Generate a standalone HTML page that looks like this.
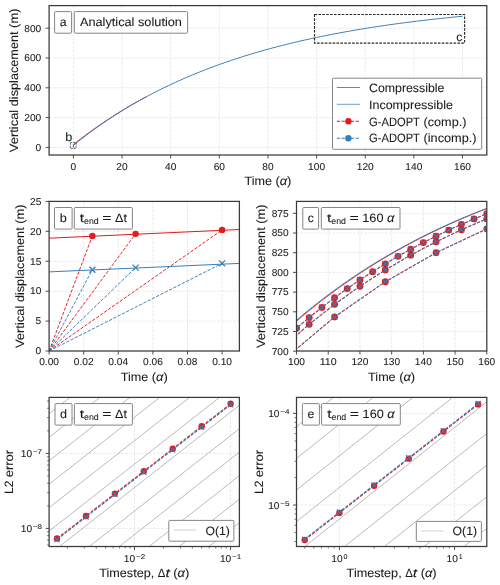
<!DOCTYPE html><html><head><meta charset="utf-8"><style>html,body{margin:0;padding:0;background:#fff;}svg{display:block;will-change:transform;}text{font-family:"Liberation Sans", sans-serif;text-rendering:geometricPrecision;stroke:#1c1c1c;stroke-width:0.08px;}</style></head><body>
<svg width="500" height="585" viewBox="0 0 500 585">
<rect x="0" y="0" width="500" height="585" fill="#fff"/>
<defs>
<clipPath id="ca"><rect x="49.1" y="5.6" width="437.7" height="149.4"/></clipPath>
<clipPath id="cb"><rect x="49.1" y="201.4" width="190.3" height="149.6"/></clipPath>
<clipPath id="cc"><rect x="296.5" y="201.4" width="190.3" height="149.6"/></clipPath>
<clipPath id="cd"><rect x="49.1" y="397.4" width="190.3" height="149.1"/></clipPath>
<clipPath id="ce"><rect x="296.5" y="397.4" width="190.3" height="149.1"/></clipPath>
</defs>
<line x1="73.42" y1="5.6" x2="73.42" y2="155" stroke="#e3e3e3" stroke-width="0.75" stroke-dasharray="2.8 1.2"/>
<line x1="122.05" y1="5.6" x2="122.05" y2="155" stroke="#e3e3e3" stroke-width="0.75" stroke-dasharray="2.8 1.2"/>
<line x1="170.68" y1="5.6" x2="170.68" y2="155" stroke="#e3e3e3" stroke-width="0.75" stroke-dasharray="2.8 1.2"/>
<line x1="219.32" y1="5.6" x2="219.32" y2="155" stroke="#e3e3e3" stroke-width="0.75" stroke-dasharray="2.8 1.2"/>
<line x1="267.95" y1="5.6" x2="267.95" y2="155" stroke="#e3e3e3" stroke-width="0.75" stroke-dasharray="2.8 1.2"/>
<line x1="316.58" y1="5.6" x2="316.58" y2="155" stroke="#e3e3e3" stroke-width="0.75" stroke-dasharray="2.8 1.2"/>
<line x1="365.22" y1="5.6" x2="365.22" y2="155" stroke="#e3e3e3" stroke-width="0.75" stroke-dasharray="2.8 1.2"/>
<line x1="413.85" y1="5.6" x2="413.85" y2="155" stroke="#e3e3e3" stroke-width="0.75" stroke-dasharray="2.8 1.2"/>
<line x1="462.48" y1="5.6" x2="462.48" y2="155" stroke="#e3e3e3" stroke-width="0.75" stroke-dasharray="2.8 1.2"/>
<line x1="49.1" y1="147.4" x2="486.8" y2="147.4" stroke="#e3e3e3" stroke-width="0.75" stroke-dasharray="2.8 1.2"/>
<line x1="49.1" y1="117.6" x2="486.8" y2="117.6" stroke="#e3e3e3" stroke-width="0.75" stroke-dasharray="2.8 1.2"/>
<line x1="49.1" y1="87.8" x2="486.8" y2="87.8" stroke="#e3e3e3" stroke-width="0.75" stroke-dasharray="2.8 1.2"/>
<line x1="49.1" y1="58" x2="486.8" y2="58" stroke="#e3e3e3" stroke-width="0.75" stroke-dasharray="2.8 1.2"/>
<line x1="49.1" y1="28.2" x2="486.8" y2="28.2" stroke="#e3e3e3" stroke-width="0.75" stroke-dasharray="2.8 1.2"/>
<polyline points="73.42,147.4 73.42,144.52 75.85,142.6 78.28,140.7 80.71,138.83 83.14,136.99 85.58,135.16 88.01,133.37 90.44,131.59 92.87,129.84 95.3,128.11 97.73,126.41 100.16,124.72 102.6,123.06 105.03,121.42 107.46,119.81 109.89,118.21 112.32,116.64 114.75,115.08 117.19,113.55 119.62,112.04 122.05,110.54 124.48,109.07 126.91,107.62 129.34,106.18 131.78,104.77 134.21,103.37 136.64,101.99 139.07,100.63 141.5,99.29 143.94,97.96 146.37,96.65" fill="none" stroke="#e41a1c" stroke-width="0.9" clip-path="url(#ca)"/>
<polyline points="73.42,147.4 73.42,145.4 75.85,143.42 78.28,141.47 80.71,139.55 83.14,137.66 85.58,135.79 88.01,133.95 90.44,132.14 92.87,130.36 95.3,128.59 97.73,126.86 100.16,125.15 102.6,123.46 105.03,121.79 107.46,120.15 109.89,118.54 112.32,116.94 114.75,115.37 117.19,113.82 119.62,112.28 122.05,110.78 124.48,109.29 126.91,107.82 129.34,106.37 131.78,104.94 134.21,103.53 136.64,102.15 139.07,100.77 141.5,99.42 143.94,98.09 146.37,96.77 148.8,95.48 151.23,94.2 153.66,92.93 156.09,91.69 158.53,90.46 160.96,89.24 163.39,88.05 165.82,86.87 168.25,85.7 170.68,84.55 173.12,83.42 175.55,82.3 177.98,81.2 180.41,80.11 182.84,79.03 185.27,77.98 187.7,76.93 190.14,75.9 192.57,74.88 195,73.87 197.43,72.88 199.86,71.91 202.29,70.94 204.73,69.99 207.16,69.05 209.59,68.12 212.02,67.21 214.45,66.3 216.88,65.41 219.32,64.53 221.75,63.67 224.18,62.81 226.61,61.97 229.04,61.13 231.47,60.31 233.91,59.5 236.34,58.7 238.77,57.91 241.2,57.13 243.63,56.36 246.06,55.6 248.5,54.85 250.93,54.11 253.36,53.39 255.79,52.67 258.22,51.96 260.66,51.26 263.09,50.56 265.52,49.88 267.95,49.21 270.38,48.54 272.81,47.89 275.25,47.24 277.68,46.6 280.11,45.97 282.54,45.35 284.97,44.74 287.4,44.13 289.83,43.54 292.27,42.95 294.7,42.36 297.13,41.79 299.56,41.22 301.99,40.67 304.43,40.11 306.86,39.57 309.29,39.03 311.72,38.5 314.15,37.98 316.58,37.46 319.01,36.95 321.45,36.45 323.88,35.96 326.31,35.47 328.74,34.98 331.17,34.51 333.61,34.04 336.04,33.57 338.47,33.11 340.9,32.66 343.33,32.22 345.76,31.78 348.19,31.34 350.63,30.91 353.06,30.49 355.49,30.07 357.92,29.66 360.35,29.26 362.79,28.86 365.22,28.46 367.65,28.07 370.08,27.68 372.51,27.3 374.94,26.93 377.38,26.56 379.81,26.19 382.24,25.83 384.67,25.48 387.1,25.13 389.53,24.78 391.97,24.44 394.4,24.1 396.83,23.77 399.26,23.44 401.69,23.12 404.12,22.8 406.56,22.48 408.99,22.17 411.42,21.86 413.85,21.56 416.28,21.26 418.71,20.96 421.14,20.67 423.58,20.38 426.01,20.1 428.44,19.82 430.87,19.54 433.3,19.27 435.74,19 438.17,18.74 440.6,18.47 443.03,18.21 445.46,17.96 447.89,17.71 450.33,17.46 452.76,17.21 455.19,16.97 457.62,16.73 460.05,16.5 462.48,16.27" fill="none" stroke="#377eb8" stroke-width="1" clip-path="url(#ca)"/>
<rect x="70.4" y="142.4" width="5.7" height="6" fill="none" stroke="#555" stroke-width="0.9" stroke-dasharray="2.0 1.0"/>
<g>
<text x="65.18" y="140.6" font-size="12.1" textLength="7.05" lengthAdjust="spacingAndGlyphs" fill="#1c1c1c">b</text>
</g>
<rect x="314.5" y="14.5" width="150.1" height="28.6" fill="none" stroke="#2a2a2a" stroke-width="1.15" stroke-dasharray="2.6 1.3"/>
<g>
<text x="456.3" y="40.8" font-size="12.1" textLength="6.1" lengthAdjust="spacingAndGlyphs" fill="#1c1c1c">c</text>
</g>
<rect x="49.1" y="5.6" width="437.7" height="149.4" fill="none" stroke="#3a3a3a" stroke-width="1.25"/>
<line x1="73.42" y1="155" x2="73.42" y2="158.5" stroke="#3a3a3a" stroke-width="0.9"/>
<g>
<text x="70.59" y="170" font-size="9.97" textLength="5.66" lengthAdjust="spacingAndGlyphs" fill="#1c1c1c">0</text>
</g>
<line x1="122.05" y1="155" x2="122.05" y2="158.5" stroke="#3a3a3a" stroke-width="0.9"/>
<g>
<text x="116.39" y="170" font-size="9.97" textLength="11.32" lengthAdjust="spacingAndGlyphs" fill="#1c1c1c">20</text>
</g>
<line x1="170.68" y1="155" x2="170.68" y2="158.5" stroke="#3a3a3a" stroke-width="0.9"/>
<g>
<text x="165.02" y="170" font-size="9.97" textLength="11.32" lengthAdjust="spacingAndGlyphs" fill="#1c1c1c">40</text>
</g>
<line x1="219.32" y1="155" x2="219.32" y2="158.5" stroke="#3a3a3a" stroke-width="0.9"/>
<g>
<text x="213.65" y="170" font-size="9.97" textLength="11.32" lengthAdjust="spacingAndGlyphs" fill="#1c1c1c">60</text>
</g>
<line x1="267.95" y1="155" x2="267.95" y2="158.5" stroke="#3a3a3a" stroke-width="0.9"/>
<g>
<text x="262.29" y="170" font-size="9.97" textLength="11.32" lengthAdjust="spacingAndGlyphs" fill="#1c1c1c">80</text>
</g>
<line x1="316.58" y1="155" x2="316.58" y2="158.5" stroke="#3a3a3a" stroke-width="0.9"/>
<g>
<text x="308.09" y="170" font-size="9.97" textLength="16.99" lengthAdjust="spacingAndGlyphs" fill="#1c1c1c">100</text>
</g>
<line x1="365.22" y1="155" x2="365.22" y2="158.5" stroke="#3a3a3a" stroke-width="0.9"/>
<g>
<text x="356.72" y="170" font-size="9.97" textLength="16.99" lengthAdjust="spacingAndGlyphs" fill="#1c1c1c">120</text>
</g>
<line x1="413.85" y1="155" x2="413.85" y2="158.5" stroke="#3a3a3a" stroke-width="0.9"/>
<g>
<text x="405.36" y="170" font-size="9.97" textLength="16.99" lengthAdjust="spacingAndGlyphs" fill="#1c1c1c">140</text>
</g>
<line x1="462.48" y1="155" x2="462.48" y2="158.5" stroke="#3a3a3a" stroke-width="0.9"/>
<g>
<text x="453.99" y="170" font-size="9.97" textLength="16.99" lengthAdjust="spacingAndGlyphs" fill="#1c1c1c">160</text>
</g>
<line x1="45.6" y1="147.4" x2="49.1" y2="147.4" stroke="#3a3a3a" stroke-width="0.9"/>
<g>
<text x="35.64" y="150.7" font-size="9.97" textLength="5.66" lengthAdjust="spacingAndGlyphs" fill="#1c1c1c">0</text>
</g>
<line x1="45.6" y1="117.6" x2="49.1" y2="117.6" stroke="#3a3a3a" stroke-width="0.9"/>
<g>
<text x="24.31" y="120.9" font-size="9.97" textLength="16.99" lengthAdjust="spacingAndGlyphs" fill="#1c1c1c">200</text>
</g>
<line x1="45.6" y1="87.8" x2="49.1" y2="87.8" stroke="#3a3a3a" stroke-width="0.9"/>
<g>
<text x="24.31" y="91.1" font-size="9.97" textLength="16.99" lengthAdjust="spacingAndGlyphs" fill="#1c1c1c">400</text>
</g>
<line x1="45.6" y1="58" x2="49.1" y2="58" stroke="#3a3a3a" stroke-width="0.9"/>
<g>
<text x="24.31" y="61.3" font-size="9.97" textLength="16.99" lengthAdjust="spacingAndGlyphs" fill="#1c1c1c">600</text>
</g>
<line x1="45.6" y1="28.2" x2="49.1" y2="28.2" stroke="#3a3a3a" stroke-width="0.9"/>
<g>
<text x="24.31" y="31.5" font-size="9.97" textLength="16.99" lengthAdjust="spacingAndGlyphs" fill="#1c1c1c">800</text>
</g>
<g>
<text x="244.44" y="184.6" font-size="12.1" textLength="27.51" lengthAdjust="spacingAndGlyphs" fill="#1c1c1c">Time</text>
<text x="275.48" y="184.6" font-size="12.1" textLength="4.33" lengthAdjust="spacingAndGlyphs" fill="#1c1c1c">(</text>
<text x="279.81" y="184.6" font-size="12.1" textLength="7.32" lengthAdjust="spacingAndGlyphs" fill="#1c1c1c" font-style="italic">α</text>
<text x="287.13" y="184.6" font-size="12.1" textLength="4.33" lengthAdjust="spacingAndGlyphs" fill="#1c1c1c">)</text>
</g>
<g transform="rotate(-90 18.3 80.3)">
<text x="-53.57" y="80.3" font-size="12.1" textLength="42.41" lengthAdjust="spacingAndGlyphs" fill="#1c1c1c">Vertical</text>
<text x="-7.63" y="80.3" font-size="12.1" textLength="74.81" lengthAdjust="spacingAndGlyphs" fill="#1c1c1c">displacement</text>
<text x="70.7" y="80.3" font-size="12.1" textLength="19.47" lengthAdjust="spacingAndGlyphs" fill="#1c1c1c">(m)</text>
</g>
<rect x="54.6" y="11.6" width="17" height="21.6" fill="#fff" stroke="#858585" stroke-width="1" rx="0.9"/>
<g>
<text x="59.7" y="26" font-size="12.1" textLength="6.8" lengthAdjust="spacingAndGlyphs" fill="#1c1c1c">a</text>
</g>
<rect x="74.3" y="11.6" width="113.3" height="21.6" fill="#fff" stroke="#858585" stroke-width="1" rx="0.9"/>
<g>
<text x="79.95" y="26" font-size="12.1" textLength="54.51" lengthAdjust="spacingAndGlyphs" fill="#1c1c1c">Analytical</text>
<text x="137.99" y="26" font-size="12.1" textLength="43.96" lengthAdjust="spacingAndGlyphs" fill="#1c1c1c">solution</text>
</g>
<rect x="332.5" y="78.2" width="149.2" height="71.1" fill="#fff" stroke="#858585" stroke-width="1" rx="0.9"/>
<line x1="336.8" y1="87.5" x2="360" y2="87.5" stroke="#e41a1c" stroke-width="1" stroke-opacity="0.75"/>
<line x1="336.8" y1="104.3" x2="360" y2="104.3" stroke="#377eb8" stroke-width="1" stroke-opacity="0.75"/>
<line x1="336.8" y1="121.3" x2="360" y2="121.3" stroke="#e41a1c" stroke-width="1.1" stroke-dasharray="3.3 1.4"/>
<circle cx="348.4" cy="121.3" r="3.2" fill="#e41a1c"/>
<line x1="336.8" y1="138.2" x2="360" y2="138.2" stroke="#377eb8" stroke-width="1.1" stroke-dasharray="3.3 1.4"/>
<circle cx="348.4" cy="138.2" r="3.2" fill="#377eb8"/>
<g>
<text x="369" y="91.7" font-size="12.1" textLength="75.4" lengthAdjust="spacingAndGlyphs" fill="#1c1c1c">Compressible</text>
</g>
<g>
<text x="369" y="108.5" font-size="12.1" textLength="84.06" lengthAdjust="spacingAndGlyphs" fill="#1c1c1c">Incompressible</text>
</g>
<g>
<text x="369" y="125.5" font-size="12.1" textLength="50.96" lengthAdjust="spacingAndGlyphs" fill="#1c1c1c">G-ADOPT</text>
<text x="423.49" y="125.5" font-size="12.1" textLength="42.94" lengthAdjust="spacingAndGlyphs" fill="#1c1c1c">(comp.)</text>
</g>
<g>
<text x="369" y="142.4" font-size="12.1" textLength="50.96" lengthAdjust="spacingAndGlyphs" fill="#1c1c1c">G-ADOPT</text>
<text x="423.49" y="142.4" font-size="12.1" textLength="53.06" lengthAdjust="spacingAndGlyphs" fill="#1c1c1c">(incomp.)</text>
</g>
<line x1="83.7" y1="201.4" x2="83.7" y2="351" stroke="#e3e3e3" stroke-width="0.75" stroke-dasharray="2.8 1.2"/>
<line x1="118.3" y1="201.4" x2="118.3" y2="351" stroke="#e3e3e3" stroke-width="0.75" stroke-dasharray="2.8 1.2"/>
<line x1="152.9" y1="201.4" x2="152.9" y2="351" stroke="#e3e3e3" stroke-width="0.75" stroke-dasharray="2.8 1.2"/>
<line x1="187.5" y1="201.4" x2="187.5" y2="351" stroke="#e3e3e3" stroke-width="0.75" stroke-dasharray="2.8 1.2"/>
<line x1="222.1" y1="201.4" x2="222.1" y2="351" stroke="#e3e3e3" stroke-width="0.75" stroke-dasharray="2.8 1.2"/>
<line x1="49.1" y1="321.08" x2="239.4" y2="321.08" stroke="#e3e3e3" stroke-width="0.75" stroke-dasharray="2.8 1.2"/>
<line x1="49.1" y1="291.16" x2="239.4" y2="291.16" stroke="#e3e3e3" stroke-width="0.75" stroke-dasharray="2.8 1.2"/>
<line x1="49.1" y1="261.24" x2="239.4" y2="261.24" stroke="#e3e3e3" stroke-width="0.75" stroke-dasharray="2.8 1.2"/>
<line x1="49.1" y1="231.32" x2="239.4" y2="231.32" stroke="#e3e3e3" stroke-width="0.75" stroke-dasharray="2.8 1.2"/>
<polyline points="49.1,351 92.35,235.93" fill="none" stroke="#e41a1c" stroke-width="0.95" stroke-dasharray="3.3 1.5" clip-path="url(#cb)"/>
<polyline points="49.1,351 135.6,233.83" fill="none" stroke="#e41a1c" stroke-width="0.95" stroke-dasharray="3.3 1.5" clip-path="url(#cb)"/>
<polyline points="49.1,351 222.1,229.88" fill="none" stroke="#e41a1c" stroke-width="0.95" stroke-dasharray="3.3 1.5" clip-path="url(#cb)"/>
<polyline points="49.1,351 92.35,269.74" fill="none" stroke="#377eb8" stroke-width="0.95" stroke-dasharray="3.3 1.5" clip-path="url(#cb)"/>
<polyline points="49.1,351 135.6,267.64" fill="none" stroke="#377eb8" stroke-width="0.95" stroke-dasharray="3.3 1.5" clip-path="url(#cb)"/>
<polyline points="49.1,351 222.1,263.39" fill="none" stroke="#377eb8" stroke-width="0.95" stroke-dasharray="3.3 1.5" clip-path="url(#cb)"/>
<polyline points="49.1,238.2 239.4,229.5" fill="none" stroke="#e41a1c" stroke-width="1" clip-path="url(#cb)"/>
<polyline points="49.1,271.9 239.4,263.4" fill="none" stroke="#377eb8" stroke-width="1" clip-path="url(#cb)"/>
<circle cx="92.35" cy="235.93" r="3.2" fill="#e41a1c"/>
<circle cx="135.6" cy="233.83" r="3.2" fill="#e41a1c"/>
<circle cx="222.1" cy="229.88" r="3.2" fill="#e41a1c"/>
<path d="M89.35 266.74L95.35 272.74M89.35 272.74L95.35 266.74" stroke="#377eb8" stroke-width="1.25" fill="none"/>
<path d="M132.6 264.64L138.6 270.64M132.6 270.64L138.6 264.64" stroke="#377eb8" stroke-width="1.25" fill="none"/>
<path d="M219.1 260.39L225.1 266.39M219.1 266.39L225.1 260.39" stroke="#377eb8" stroke-width="1.25" fill="none"/>
<rect x="49.1" y="201.4" width="190.3" height="149.6" fill="none" stroke="#3a3a3a" stroke-width="1.25"/>
<line x1="49.1" y1="351" x2="49.1" y2="354.5" stroke="#3a3a3a" stroke-width="0.9"/>
<g>
<text x="39.19" y="365.4" font-size="9.97" textLength="19.82" lengthAdjust="spacingAndGlyphs" fill="#1c1c1c">0.00</text>
</g>
<line x1="83.7" y1="351" x2="83.7" y2="354.5" stroke="#3a3a3a" stroke-width="0.9"/>
<g>
<text x="73.79" y="365.4" font-size="9.97" textLength="19.82" lengthAdjust="spacingAndGlyphs" fill="#1c1c1c">0.02</text>
</g>
<line x1="118.3" y1="351" x2="118.3" y2="354.5" stroke="#3a3a3a" stroke-width="0.9"/>
<g>
<text x="108.39" y="365.4" font-size="9.97" textLength="19.82" lengthAdjust="spacingAndGlyphs" fill="#1c1c1c">0.04</text>
</g>
<line x1="152.9" y1="351" x2="152.9" y2="354.5" stroke="#3a3a3a" stroke-width="0.9"/>
<g>
<text x="142.99" y="365.4" font-size="9.97" textLength="19.82" lengthAdjust="spacingAndGlyphs" fill="#1c1c1c">0.06</text>
</g>
<line x1="187.5" y1="351" x2="187.5" y2="354.5" stroke="#3a3a3a" stroke-width="0.9"/>
<g>
<text x="177.59" y="365.4" font-size="9.97" textLength="19.82" lengthAdjust="spacingAndGlyphs" fill="#1c1c1c">0.08</text>
</g>
<line x1="222.1" y1="351" x2="222.1" y2="354.5" stroke="#3a3a3a" stroke-width="0.9"/>
<g>
<text x="212.19" y="365.4" font-size="9.97" textLength="19.82" lengthAdjust="spacingAndGlyphs" fill="#1c1c1c">0.10</text>
</g>
<line x1="45.6" y1="351" x2="49.1" y2="351" stroke="#3a3a3a" stroke-width="0.9"/>
<g>
<text x="35.64" y="354.3" font-size="9.97" textLength="5.66" lengthAdjust="spacingAndGlyphs" fill="#1c1c1c">0</text>
</g>
<line x1="45.6" y1="321.08" x2="49.1" y2="321.08" stroke="#3a3a3a" stroke-width="0.9"/>
<g>
<text x="35.64" y="324.38" font-size="9.97" textLength="5.66" lengthAdjust="spacingAndGlyphs" fill="#1c1c1c">5</text>
</g>
<line x1="45.6" y1="291.16" x2="49.1" y2="291.16" stroke="#3a3a3a" stroke-width="0.9"/>
<g>
<text x="29.98" y="294.46" font-size="9.97" textLength="11.32" lengthAdjust="spacingAndGlyphs" fill="#1c1c1c">10</text>
</g>
<line x1="45.6" y1="261.24" x2="49.1" y2="261.24" stroke="#3a3a3a" stroke-width="0.9"/>
<g>
<text x="29.98" y="264.54" font-size="9.97" textLength="11.32" lengthAdjust="spacingAndGlyphs" fill="#1c1c1c">15</text>
</g>
<line x1="45.6" y1="231.32" x2="49.1" y2="231.32" stroke="#3a3a3a" stroke-width="0.9"/>
<g>
<text x="29.98" y="234.62" font-size="9.97" textLength="11.32" lengthAdjust="spacingAndGlyphs" fill="#1c1c1c">20</text>
</g>
<line x1="45.6" y1="201.4" x2="49.1" y2="201.4" stroke="#3a3a3a" stroke-width="0.9"/>
<g>
<text x="29.98" y="204.7" font-size="9.97" textLength="11.32" lengthAdjust="spacingAndGlyphs" fill="#1c1c1c">25</text>
</g>
<g>
<text x="120.74" y="380.5" font-size="12.1" textLength="27.51" lengthAdjust="spacingAndGlyphs" fill="#1c1c1c">Time</text>
<text x="151.78" y="380.5" font-size="12.1" textLength="4.33" lengthAdjust="spacingAndGlyphs" fill="#1c1c1c">(</text>
<text x="156.11" y="380.5" font-size="12.1" textLength="7.32" lengthAdjust="spacingAndGlyphs" fill="#1c1c1c" font-style="italic">α</text>
<text x="163.43" y="380.5" font-size="12.1" textLength="4.33" lengthAdjust="spacingAndGlyphs" fill="#1c1c1c">)</text>
</g>
<g transform="rotate(-90 23.9 276.2)">
<text x="-47.97" y="276.2" font-size="12.1" textLength="42.41" lengthAdjust="spacingAndGlyphs" fill="#1c1c1c">Vertical</text>
<text x="-2.03" y="276.2" font-size="12.1" textLength="74.81" lengthAdjust="spacingAndGlyphs" fill="#1c1c1c">displacement</text>
<text x="76.3" y="276.2" font-size="12.1" textLength="19.47" lengthAdjust="spacingAndGlyphs" fill="#1c1c1c">(m)</text>
</g>
<rect x="54.5" y="207.5" width="17.6" height="21.6" fill="#fff" stroke="#858585" stroke-width="1" rx="0.9"/>
<g>
<text x="59.78" y="221.9" font-size="12.1" textLength="7.05" lengthAdjust="spacingAndGlyphs" fill="#1c1c1c">b</text>
</g>
<rect x="74.3" y="207.5" width="58.1" height="21.6" fill="#fff" stroke="#858585" stroke-width="1" rx="0.9"/>
<g>
<text x="79.7" y="221.9" font-size="12.1" textLength="4.35" lengthAdjust="spacingAndGlyphs" fill="#1c1c1c">t</text>
<text x="84.06" y="224.34" font-size="8.7" textLength="14.64" lengthAdjust="spacingAndGlyphs" fill="#1c1c1c">end</text>
<text x="102.22" y="221.9" font-size="12.1" textLength="9.3" lengthAdjust="spacingAndGlyphs" fill="#1c1c1c">=</text>
<text x="115.05" y="221.9" font-size="12.1" textLength="11.95" lengthAdjust="spacingAndGlyphs" fill="#1c1c1c">Δt</text>
</g>
<line x1="328.22" y1="201.4" x2="328.22" y2="351" stroke="#e3e3e3" stroke-width="0.75" stroke-dasharray="2.8 1.2"/>
<line x1="359.93" y1="201.4" x2="359.93" y2="351" stroke="#e3e3e3" stroke-width="0.75" stroke-dasharray="2.8 1.2"/>
<line x1="391.65" y1="201.4" x2="391.65" y2="351" stroke="#e3e3e3" stroke-width="0.75" stroke-dasharray="2.8 1.2"/>
<line x1="423.37" y1="201.4" x2="423.37" y2="351" stroke="#e3e3e3" stroke-width="0.75" stroke-dasharray="2.8 1.2"/>
<line x1="455.08" y1="201.4" x2="455.08" y2="351" stroke="#e3e3e3" stroke-width="0.75" stroke-dasharray="2.8 1.2"/>
<line x1="296.5" y1="331.5" x2="486.8" y2="331.5" stroke="#e3e3e3" stroke-width="0.75" stroke-dasharray="2.8 1.2"/>
<line x1="296.5" y1="311.8" x2="486.8" y2="311.8" stroke="#e3e3e3" stroke-width="0.75" stroke-dasharray="2.8 1.2"/>
<line x1="296.5" y1="292.1" x2="486.8" y2="292.1" stroke="#e3e3e3" stroke-width="0.75" stroke-dasharray="2.8 1.2"/>
<line x1="296.5" y1="272.4" x2="486.8" y2="272.4" stroke="#e3e3e3" stroke-width="0.75" stroke-dasharray="2.8 1.2"/>
<line x1="296.5" y1="252.7" x2="486.8" y2="252.7" stroke="#e3e3e3" stroke-width="0.75" stroke-dasharray="2.8 1.2"/>
<line x1="296.5" y1="233" x2="486.8" y2="233" stroke="#e3e3e3" stroke-width="0.75" stroke-dasharray="2.8 1.2"/>
<line x1="296.5" y1="213.3" x2="486.8" y2="213.3" stroke="#e3e3e3" stroke-width="0.75" stroke-dasharray="2.8 1.2"/>
<polyline points="264.78,350.27 266.37,348.72 267.95,347.18 269.54,345.65 271.13,344.13 272.71,342.62 274.3,341.13 275.88,339.64 277.47,338.16 279.06,336.69 280.64,335.23 282.23,333.78 283.81,332.34 285.4,330.91 286.99,329.49 288.57,328.07 290.16,326.67 291.74,325.28 293.33,323.89 294.91,322.52 296.5,321.15 298.09,319.8 299.67,318.45 301.26,317.11 302.84,315.78 304.43,314.46 306.01,313.14 307.6,311.84 309.19,310.55 310.77,309.26 312.36,307.98 313.94,306.71 315.53,305.45 317.12,304.2 318.7,302.95 320.29,301.72 321.87,300.49 323.46,299.27 325.05,298.06 326.63,296.85 328.22,295.66 329.8,294.47 331.39,293.29 332.97,292.11 334.56,290.95 336.15,289.79 337.73,288.64 339.32,287.5 340.9,286.37 342.49,285.24 344.07,284.12 345.66,283.01 347.25,281.91 348.83,280.81 350.42,279.72 352,278.64 353.59,277.56 355.18,276.49 356.76,275.43 358.35,274.38 359.93,273.33 361.52,272.29 363.11,271.26 364.69,270.23 366.28,269.21 367.86,268.2 369.45,267.19 371.03,266.19 372.62,265.2 374.21,264.21 375.79,263.23 377.38,262.26 378.96,261.29 380.55,260.33 382.13,259.38 383.72,258.43 385.31,257.49 386.89,256.55 388.48,255.62 390.06,254.7 391.65,253.78 393.24,252.87 394.82,251.96 396.41,251.07 397.99,250.17 399.58,249.29 401.17,248.4 402.75,247.53 404.34,246.66 405.92,245.8 407.51,244.94 409.09,244.09 410.68,243.24 412.27,242.4 413.85,241.56 415.44,240.73 417.02,239.91 418.61,239.09 420.19,238.27 421.78,237.47 423.37,236.66 424.95,235.87 426.54,235.07 428.12,234.29 429.71,233.5 431.3,232.73 432.88,231.96 434.47,231.19 436.05,230.43 437.64,229.67 439.23,228.92 440.81,228.17 442.4,227.43 443.98,226.7 445.57,225.96 447.15,225.24 448.74,224.52 450.33,223.8 451.91,223.09 453.5,222.38 455.08,221.67 456.67,220.98 458.25,220.28 459.84,219.59 461.43,218.91 463.01,218.23 464.6,217.55 466.18,216.88 467.77,216.22 469.36,215.55 470.94,214.89 472.53,214.24 474.11,213.59 475.7,212.95 477.28,212.31 478.87,211.67 480.46,211.04 482.04,210.41 483.63,209.79 485.21,209.17 486.8,208.55 488.39,207.94 489.97,207.33 491.56,206.73 493.14,206.13 494.73,205.53 496.32,204.94 497.9,204.35 499.49,203.77 501.07,203.19 502.66,202.61" fill="none" stroke="#e41a1c" stroke-width="1" clip-path="url(#cc)"/>
<polyline points="264.78,349.29 266.37,347.75 267.95,346.21 269.54,344.68 271.13,343.16 272.71,341.66 274.3,340.16 275.88,338.68 277.47,337.2 279.06,335.73 280.64,334.28 282.23,332.83 283.81,331.39 285.4,329.96 286.99,328.55 288.57,327.14 290.16,325.74 291.74,324.35 293.33,322.97 294.91,321.6 296.5,320.23 298.09,318.88 299.67,317.54 301.26,316.2 302.84,314.88 304.43,313.56 306.01,312.25 307.6,310.95 309.19,309.66 310.77,308.38 312.36,307.1 313.94,305.84 315.53,304.58 317.12,303.33 318.7,302.09 320.29,300.86 321.87,299.64 323.46,298.42 325.05,297.22 326.63,296.02 328.22,294.83 329.8,293.64 331.39,292.47 332.97,291.3 334.56,290.14 336.15,288.99 337.73,287.84 339.32,286.71 340.9,285.58 342.49,284.46 344.07,283.34 345.66,282.24 347.25,281.14 348.83,280.05 350.42,278.96 352,277.89 353.59,276.82 355.18,275.75 356.76,274.7 358.35,273.65 359.93,272.61 361.52,271.57 363.11,270.55 364.69,269.53 366.28,268.51 367.86,267.5 369.45,266.5 371.03,265.51 372.62,264.52 374.21,263.54 375.79,262.57 377.38,261.6 378.96,260.64 380.55,259.69 382.13,258.74 383.72,257.8 385.31,256.86 386.89,255.93 388.48,255.01 390.06,254.09 391.65,253.18 393.24,252.28 394.82,251.38 396.41,250.49 397.99,249.6 399.58,248.72 401.17,247.84 402.75,246.98 404.34,246.11 405.92,245.26 407.51,244.4 409.09,243.56 410.68,242.72 412.27,241.88 413.85,241.05 415.44,240.23 417.02,239.41 418.61,238.6 420.19,237.79 421.78,236.99 423.37,236.2 424.95,235.41 426.54,234.62 428.12,233.84 429.71,233.06 431.3,232.29 432.88,231.53 434.47,230.77 436.05,230.01 437.64,229.27 439.23,228.52 440.81,227.78 442.4,227.05 443.98,226.32 445.57,225.59 447.15,224.87 448.74,224.16 450.33,223.45 451.91,222.74 453.5,222.04 455.08,221.34 456.67,220.65 458.25,219.96 459.84,219.28 461.43,218.6 463.01,217.93 464.6,217.26 466.18,216.6 467.77,215.94 469.36,215.28 470.94,214.63 472.53,213.99 474.11,213.34 475.7,212.71 477.28,212.07 478.87,211.44 480.46,210.82 482.04,210.2 483.63,209.58 485.21,208.97 486.8,208.36 488.39,207.75 489.97,207.15 491.56,206.55 493.14,205.96 494.73,205.37 496.32,204.79 497.9,204.21 499.49,203.63 501.07,203.06 502.66,202.49" fill="none" stroke="#377eb8" stroke-width="1" clip-path="url(#cc)"/>
<polyline points="283.81,339.53 296.5,328.26 309.19,317.56 321.87,307.4 334.56,297.75 347.25,288.59 359.93,279.89 372.62,271.63 385.31,263.79 397.99,256.34 410.68,249.27 423.37,242.55 436.05,236.18 448.74,230.12 461.43,224.37 474.11,218.91 486.8,213.73" fill="none" stroke="#e41a1c" stroke-width="1.1" stroke-dasharray="3.3 1.4" clip-path="url(#cc)"/>
<polyline points="283.81,339.53 296.5,328.26 309.19,317.56 321.87,307.4 334.56,297.75 347.25,288.59 359.93,279.89 372.62,271.63 385.31,263.79 397.99,256.34 410.68,249.27 423.37,242.55 436.05,236.18 448.74,230.12 461.43,224.37 474.11,218.91 486.8,213.73" fill="none" stroke="#377eb8" stroke-width="0.9" stroke-dasharray="3.3 1.4" clip-path="url(#cc)"/>
<polyline points="283.81,346.46 309.19,324.34 334.56,304.35 359.93,286.27 385.31,269.93 410.68,255.16 436.05,241.81 461.43,229.74 486.8,218.83" fill="none" stroke="#e41a1c" stroke-width="1.1" stroke-dasharray="3.3 1.4" clip-path="url(#cc)"/>
<polyline points="283.81,346.46 309.19,324.34 334.56,304.35 359.93,286.27 385.31,269.93 410.68,255.16 436.05,241.81 461.43,229.74 486.8,218.83" fill="none" stroke="#377eb8" stroke-width="0.9" stroke-dasharray="3.3 1.4" clip-path="url(#cc)"/>
<polyline points="283.81,359.63 334.56,316.96 385.31,281.77 436.05,252.74 486.8,228.8" fill="none" stroke="#e41a1c" stroke-width="1.1" stroke-dasharray="3.3 1.4" clip-path="url(#cc)"/>
<polyline points="283.81,359.63 334.56,316.96 385.31,281.77 436.05,252.74 486.8,228.8" fill="none" stroke="#377eb8" stroke-width="0.9" stroke-dasharray="3.3 1.4" clip-path="url(#cc)"/>
<circle cx="296.5" cy="328.26" r="3.4" fill="#e41a1c" clip-path="url(#cc)"/>
<path d="M293.8 325.56L299.2 330.96M293.8 330.96L299.2 325.56" stroke="#377eb8" stroke-width="1.05" fill="none" clip-path="url(#cc)"/>
<circle cx="309.19" cy="317.56" r="3.4" fill="#e41a1c" clip-path="url(#cc)"/>
<path d="M306.49 314.86L311.89 320.26M306.49 320.26L311.89 314.86" stroke="#377eb8" stroke-width="1.05" fill="none" clip-path="url(#cc)"/>
<circle cx="321.87" cy="307.4" r="3.4" fill="#e41a1c" clip-path="url(#cc)"/>
<path d="M319.17 304.7L324.57 310.1M319.17 310.1L324.57 304.7" stroke="#377eb8" stroke-width="1.05" fill="none" clip-path="url(#cc)"/>
<circle cx="334.56" cy="297.75" r="3.4" fill="#e41a1c" clip-path="url(#cc)"/>
<path d="M331.86 295.05L337.26 300.45M331.86 300.45L337.26 295.05" stroke="#377eb8" stroke-width="1.05" fill="none" clip-path="url(#cc)"/>
<circle cx="347.25" cy="288.59" r="3.4" fill="#e41a1c" clip-path="url(#cc)"/>
<path d="M344.55 285.89L349.95 291.29M344.55 291.29L349.95 285.89" stroke="#377eb8" stroke-width="1.05" fill="none" clip-path="url(#cc)"/>
<circle cx="359.93" cy="279.89" r="3.4" fill="#e41a1c" clip-path="url(#cc)"/>
<path d="M357.23 277.19L362.63 282.59M357.23 282.59L362.63 277.19" stroke="#377eb8" stroke-width="1.05" fill="none" clip-path="url(#cc)"/>
<circle cx="372.62" cy="271.63" r="3.4" fill="#e41a1c" clip-path="url(#cc)"/>
<path d="M369.92 268.93L375.32 274.33M369.92 274.33L375.32 268.93" stroke="#377eb8" stroke-width="1.05" fill="none" clip-path="url(#cc)"/>
<circle cx="385.31" cy="263.79" r="3.4" fill="#e41a1c" clip-path="url(#cc)"/>
<path d="M382.61 261.09L388.01 266.49M382.61 266.49L388.01 261.09" stroke="#377eb8" stroke-width="1.05" fill="none" clip-path="url(#cc)"/>
<circle cx="397.99" cy="256.34" r="3.4" fill="#e41a1c" clip-path="url(#cc)"/>
<path d="M395.29 253.64L400.69 259.04M395.29 259.04L400.69 253.64" stroke="#377eb8" stroke-width="1.05" fill="none" clip-path="url(#cc)"/>
<circle cx="410.68" cy="249.27" r="3.4" fill="#e41a1c" clip-path="url(#cc)"/>
<path d="M407.98 246.57L413.38 251.97M407.98 251.97L413.38 246.57" stroke="#377eb8" stroke-width="1.05" fill="none" clip-path="url(#cc)"/>
<circle cx="423.37" cy="242.55" r="3.4" fill="#e41a1c" clip-path="url(#cc)"/>
<path d="M420.67 239.85L426.07 245.25M420.67 245.25L426.07 239.85" stroke="#377eb8" stroke-width="1.05" fill="none" clip-path="url(#cc)"/>
<circle cx="436.05" cy="236.18" r="3.4" fill="#e41a1c" clip-path="url(#cc)"/>
<path d="M433.35 233.48L438.75 238.88M433.35 238.88L438.75 233.48" stroke="#377eb8" stroke-width="1.05" fill="none" clip-path="url(#cc)"/>
<circle cx="448.74" cy="230.12" r="3.4" fill="#e41a1c" clip-path="url(#cc)"/>
<path d="M446.04 227.42L451.44 232.82M446.04 232.82L451.44 227.42" stroke="#377eb8" stroke-width="1.05" fill="none" clip-path="url(#cc)"/>
<circle cx="461.43" cy="224.37" r="3.4" fill="#e41a1c" clip-path="url(#cc)"/>
<path d="M458.73 221.67L464.13 227.07M458.73 227.07L464.13 221.67" stroke="#377eb8" stroke-width="1.05" fill="none" clip-path="url(#cc)"/>
<circle cx="474.11" cy="218.91" r="3.4" fill="#e41a1c" clip-path="url(#cc)"/>
<path d="M471.41 216.21L476.81 221.61M471.41 221.61L476.81 216.21" stroke="#377eb8" stroke-width="1.05" fill="none" clip-path="url(#cc)"/>
<circle cx="486.8" cy="213.73" r="3.4" fill="#e41a1c" clip-path="url(#cc)"/>
<path d="M484.1 211.03L489.5 216.43M484.1 216.43L489.5 211.03" stroke="#377eb8" stroke-width="1.05" fill="none" clip-path="url(#cc)"/>
<circle cx="309.19" cy="324.34" r="3.4" fill="#e41a1c" clip-path="url(#cc)"/>
<path d="M306.49 321.64L311.89 327.04M306.49 327.04L311.89 321.64" stroke="#377eb8" stroke-width="1.05" fill="none" clip-path="url(#cc)"/>
<circle cx="334.56" cy="304.35" r="3.4" fill="#e41a1c" clip-path="url(#cc)"/>
<path d="M331.86 301.65L337.26 307.05M331.86 307.05L337.26 301.65" stroke="#377eb8" stroke-width="1.05" fill="none" clip-path="url(#cc)"/>
<circle cx="359.93" cy="286.27" r="3.4" fill="#e41a1c" clip-path="url(#cc)"/>
<path d="M357.23 283.57L362.63 288.97M357.23 288.97L362.63 283.57" stroke="#377eb8" stroke-width="1.05" fill="none" clip-path="url(#cc)"/>
<circle cx="385.31" cy="269.93" r="3.4" fill="#e41a1c" clip-path="url(#cc)"/>
<path d="M382.61 267.23L388.01 272.63M382.61 272.63L388.01 267.23" stroke="#377eb8" stroke-width="1.05" fill="none" clip-path="url(#cc)"/>
<circle cx="410.68" cy="255.16" r="3.4" fill="#e41a1c" clip-path="url(#cc)"/>
<path d="M407.98 252.46L413.38 257.86M407.98 257.86L413.38 252.46" stroke="#377eb8" stroke-width="1.05" fill="none" clip-path="url(#cc)"/>
<circle cx="436.05" cy="241.81" r="3.4" fill="#e41a1c" clip-path="url(#cc)"/>
<path d="M433.35 239.11L438.75 244.51M433.35 244.51L438.75 239.11" stroke="#377eb8" stroke-width="1.05" fill="none" clip-path="url(#cc)"/>
<circle cx="461.43" cy="229.74" r="3.4" fill="#e41a1c" clip-path="url(#cc)"/>
<path d="M458.73 227.04L464.13 232.44M458.73 232.44L464.13 227.04" stroke="#377eb8" stroke-width="1.05" fill="none" clip-path="url(#cc)"/>
<circle cx="486.8" cy="218.83" r="3.4" fill="#e41a1c" clip-path="url(#cc)"/>
<path d="M484.1 216.13L489.5 221.53M484.1 221.53L489.5 216.13" stroke="#377eb8" stroke-width="1.05" fill="none" clip-path="url(#cc)"/>
<circle cx="334.56" cy="316.96" r="3.4" fill="#e41a1c" clip-path="url(#cc)"/>
<path d="M331.86 314.26L337.26 319.66M331.86 319.66L337.26 314.26" stroke="#377eb8" stroke-width="1.05" fill="none" clip-path="url(#cc)"/>
<circle cx="385.31" cy="281.77" r="3.4" fill="#e41a1c" clip-path="url(#cc)"/>
<path d="M382.61 279.07L388.01 284.47M382.61 284.47L388.01 279.07" stroke="#377eb8" stroke-width="1.05" fill="none" clip-path="url(#cc)"/>
<circle cx="436.05" cy="252.74" r="3.4" fill="#e41a1c" clip-path="url(#cc)"/>
<path d="M433.35 250.04L438.75 255.44M433.35 255.44L438.75 250.04" stroke="#377eb8" stroke-width="1.05" fill="none" clip-path="url(#cc)"/>
<circle cx="486.8" cy="228.8" r="3.4" fill="#e41a1c" clip-path="url(#cc)"/>
<path d="M484.1 226.1L489.5 231.5M484.1 231.5L489.5 226.1" stroke="#377eb8" stroke-width="1.05" fill="none" clip-path="url(#cc)"/>
<rect x="296.5" y="201.4" width="190.3" height="149.6" fill="none" stroke="#3a3a3a" stroke-width="1.25"/>
<line x1="296.5" y1="351" x2="296.5" y2="354.5" stroke="#3a3a3a" stroke-width="0.9"/>
<g>
<text x="288.01" y="365.4" font-size="9.97" textLength="16.99" lengthAdjust="spacingAndGlyphs" fill="#1c1c1c">100</text>
</g>
<line x1="328.22" y1="351" x2="328.22" y2="354.5" stroke="#3a3a3a" stroke-width="0.9"/>
<g>
<text x="319.72" y="365.4" font-size="9.97" textLength="16.99" lengthAdjust="spacingAndGlyphs" fill="#1c1c1c">110</text>
</g>
<line x1="359.93" y1="351" x2="359.93" y2="354.5" stroke="#3a3a3a" stroke-width="0.9"/>
<g>
<text x="351.44" y="365.4" font-size="9.97" textLength="16.99" lengthAdjust="spacingAndGlyphs" fill="#1c1c1c">120</text>
</g>
<line x1="391.65" y1="351" x2="391.65" y2="354.5" stroke="#3a3a3a" stroke-width="0.9"/>
<g>
<text x="383.16" y="365.4" font-size="9.97" textLength="16.99" lengthAdjust="spacingAndGlyphs" fill="#1c1c1c">130</text>
</g>
<line x1="423.37" y1="351" x2="423.37" y2="354.5" stroke="#3a3a3a" stroke-width="0.9"/>
<g>
<text x="414.87" y="365.4" font-size="9.97" textLength="16.99" lengthAdjust="spacingAndGlyphs" fill="#1c1c1c">140</text>
</g>
<line x1="455.08" y1="351" x2="455.08" y2="354.5" stroke="#3a3a3a" stroke-width="0.9"/>
<g>
<text x="446.59" y="365.4" font-size="9.97" textLength="16.99" lengthAdjust="spacingAndGlyphs" fill="#1c1c1c">150</text>
</g>
<line x1="486.8" y1="351" x2="486.8" y2="354.5" stroke="#3a3a3a" stroke-width="0.9"/>
<g>
<text x="478.31" y="365.4" font-size="9.97" textLength="16.99" lengthAdjust="spacingAndGlyphs" fill="#1c1c1c">160</text>
</g>
<line x1="293" y1="351.2" x2="296.5" y2="351.2" stroke="#3a3a3a" stroke-width="0.9"/>
<g>
<text x="271.71" y="354.5" font-size="9.97" textLength="16.99" lengthAdjust="spacingAndGlyphs" fill="#1c1c1c">700</text>
</g>
<line x1="293" y1="331.5" x2="296.5" y2="331.5" stroke="#3a3a3a" stroke-width="0.9"/>
<g>
<text x="271.71" y="334.8" font-size="9.97" textLength="16.99" lengthAdjust="spacingAndGlyphs" fill="#1c1c1c">725</text>
</g>
<line x1="293" y1="311.8" x2="296.5" y2="311.8" stroke="#3a3a3a" stroke-width="0.9"/>
<g>
<text x="271.71" y="315.1" font-size="9.97" textLength="16.99" lengthAdjust="spacingAndGlyphs" fill="#1c1c1c">750</text>
</g>
<line x1="293" y1="292.1" x2="296.5" y2="292.1" stroke="#3a3a3a" stroke-width="0.9"/>
<g>
<text x="271.71" y="295.4" font-size="9.97" textLength="16.99" lengthAdjust="spacingAndGlyphs" fill="#1c1c1c">775</text>
</g>
<line x1="293" y1="272.4" x2="296.5" y2="272.4" stroke="#3a3a3a" stroke-width="0.9"/>
<g>
<text x="271.71" y="275.7" font-size="9.97" textLength="16.99" lengthAdjust="spacingAndGlyphs" fill="#1c1c1c">800</text>
</g>
<line x1="293" y1="252.7" x2="296.5" y2="252.7" stroke="#3a3a3a" stroke-width="0.9"/>
<g>
<text x="271.71" y="256" font-size="9.97" textLength="16.99" lengthAdjust="spacingAndGlyphs" fill="#1c1c1c">825</text>
</g>
<line x1="293" y1="233" x2="296.5" y2="233" stroke="#3a3a3a" stroke-width="0.9"/>
<g>
<text x="271.71" y="236.3" font-size="9.97" textLength="16.99" lengthAdjust="spacingAndGlyphs" fill="#1c1c1c">850</text>
</g>
<line x1="293" y1="213.3" x2="296.5" y2="213.3" stroke="#3a3a3a" stroke-width="0.9"/>
<g>
<text x="271.71" y="216.6" font-size="9.97" textLength="16.99" lengthAdjust="spacingAndGlyphs" fill="#1c1c1c">875</text>
</g>
<g>
<text x="368.14" y="380.5" font-size="12.1" textLength="27.51" lengthAdjust="spacingAndGlyphs" fill="#1c1c1c">Time</text>
<text x="399.18" y="380.5" font-size="12.1" textLength="4.33" lengthAdjust="spacingAndGlyphs" fill="#1c1c1c">(</text>
<text x="403.51" y="380.5" font-size="12.1" textLength="7.32" lengthAdjust="spacingAndGlyphs" fill="#1c1c1c" font-style="italic">α</text>
<text x="410.83" y="380.5" font-size="12.1" textLength="4.33" lengthAdjust="spacingAndGlyphs" fill="#1c1c1c">)</text>
</g>
<g transform="rotate(-90 264.9 276.2)">
<text x="193.03" y="276.2" font-size="12.1" textLength="42.41" lengthAdjust="spacingAndGlyphs" fill="#1c1c1c">Vertical</text>
<text x="238.97" y="276.2" font-size="12.1" textLength="74.81" lengthAdjust="spacingAndGlyphs" fill="#1c1c1c">displacement</text>
<text x="317.3" y="276.2" font-size="12.1" textLength="19.47" lengthAdjust="spacingAndGlyphs" fill="#1c1c1c">(m)</text>
</g>
<rect x="302.8" y="207.5" width="15.8" height="21.6" fill="#fff" stroke="#858585" stroke-width="1" rx="0.9"/>
<g>
<text x="307.65" y="221.9" font-size="12.1" textLength="6.1" lengthAdjust="spacingAndGlyphs" fill="#1c1c1c">c</text>
</g>
<rect x="321.3" y="207.5" width="78.7" height="21.6" fill="#fff" stroke="#858585" stroke-width="1" rx="0.9"/>
<g>
<text x="326.96" y="221.9" font-size="12.1" textLength="4.35" lengthAdjust="spacingAndGlyphs" fill="#1c1c1c">t</text>
<text x="331.31" y="224.34" font-size="8.7" textLength="14.64" lengthAdjust="spacingAndGlyphs" fill="#1c1c1c">end</text>
<text x="349.48" y="221.9" font-size="12.1" textLength="9.3" lengthAdjust="spacingAndGlyphs" fill="#1c1c1c">=</text>
<text x="362.31" y="221.9" font-size="12.1" textLength="21.19" lengthAdjust="spacingAndGlyphs" fill="#1c1c1c">160</text>
<text x="387.02" y="221.9" font-size="12.1" textLength="7.32" lengthAdjust="spacingAndGlyphs" fill="#1c1c1c" font-style="italic">α</text>
</g>
<line x1="134.5" y1="397.4" x2="134.5" y2="546.5" stroke="#e3e3e3" stroke-width="0.75" stroke-dasharray="2.8 1.2"/>
<line x1="230.6" y1="397.4" x2="230.6" y2="546.5" stroke="#e3e3e3" stroke-width="0.75" stroke-dasharray="2.8 1.2"/>
<line x1="49.1" y1="528.4" x2="239.4" y2="528.4" stroke="#e3e3e3" stroke-width="0.75" stroke-dasharray="2.8 1.2"/>
<line x1="49.1" y1="453.4" x2="239.4" y2="453.4" stroke="#e3e3e3" stroke-width="0.75" stroke-dasharray="2.8 1.2"/>
<polyline points="-139.2,373.85 -429.2,601.5" fill="none" stroke="#9c9c9c" stroke-width="0.7" clip-path="url(#cd)"/>
<polyline points="-109.3,373.85 -399.3,601.5" fill="none" stroke="#9c9c9c" stroke-width="0.7" clip-path="url(#cd)"/>
<polyline points="-79.4,373.85 -369.4,601.5" fill="none" stroke="#9c9c9c" stroke-width="0.7" clip-path="url(#cd)"/>
<polyline points="-49.5,373.85 -339.5,601.5" fill="none" stroke="#9c9c9c" stroke-width="0.7" clip-path="url(#cd)"/>
<polyline points="-19.6,373.85 -309.6,601.5" fill="none" stroke="#9c9c9c" stroke-width="0.7" clip-path="url(#cd)"/>
<polyline points="10.3,373.85 -279.7,601.5" fill="none" stroke="#9c9c9c" stroke-width="0.7" clip-path="url(#cd)"/>
<polyline points="40.2,373.85 -249.8,601.5" fill="none" stroke="#9c9c9c" stroke-width="0.7" clip-path="url(#cd)"/>
<polyline points="70.1,373.85 -219.9,601.5" fill="none" stroke="#9c9c9c" stroke-width="0.7" clip-path="url(#cd)"/>
<polyline points="100,373.85 -190,601.5" fill="none" stroke="#9c9c9c" stroke-width="0.7" clip-path="url(#cd)"/>
<polyline points="129.9,373.85 -160.1,601.5" fill="none" stroke="#9c9c9c" stroke-width="0.7" clip-path="url(#cd)"/>
<polyline points="159.8,373.85 -130.2,601.5" fill="none" stroke="#9c9c9c" stroke-width="0.7" clip-path="url(#cd)"/>
<polyline points="189.7,373.85 -100.3,601.5" fill="none" stroke="#9c9c9c" stroke-width="0.7" clip-path="url(#cd)"/>
<polyline points="219.6,373.85 -70.4,601.5" fill="none" stroke="#9c9c9c" stroke-width="0.7" clip-path="url(#cd)"/>
<polyline points="249.5,373.85 -40.5,601.5" fill="none" stroke="#9c9c9c" stroke-width="0.7" clip-path="url(#cd)"/>
<polyline points="279.4,373.85 -10.6,601.5" fill="none" stroke="#9c9c9c" stroke-width="0.7" clip-path="url(#cd)"/>
<polyline points="309.3,373.85 19.3,601.5" fill="none" stroke="#9c9c9c" stroke-width="0.7" clip-path="url(#cd)"/>
<polyline points="339.2,373.85 49.2,601.5" fill="none" stroke="#9c9c9c" stroke-width="0.7" clip-path="url(#cd)"/>
<polyline points="369.1,373.85 79.1,601.5" fill="none" stroke="#9c9c9c" stroke-width="0.7" clip-path="url(#cd)"/>
<polyline points="399,373.85 109,601.5" fill="none" stroke="#9c9c9c" stroke-width="0.7" clip-path="url(#cd)"/>
<polyline points="428.9,373.85 138.9,601.5" fill="none" stroke="#9c9c9c" stroke-width="0.7" clip-path="url(#cd)"/>
<polyline points="458.8,373.85 168.8,601.5" fill="none" stroke="#9c9c9c" stroke-width="0.7" clip-path="url(#cd)"/>
<polyline points="488.7,373.85 198.7,601.5" fill="none" stroke="#9c9c9c" stroke-width="0.7" clip-path="url(#cd)"/>
<polyline points="230.6,403.8 201.67,426.25 172.74,448.7 143.81,471.15 114.88,493.6 85.96,516.05 57.03,538.5" fill="none" stroke="#e41a1c" stroke-width="1.1" stroke-dasharray="3.3 1.4" clip-path="url(#cd)"/>
<polyline points="230.6,404.8 201.67,427.25 172.74,449.7 143.81,472.15 114.88,494.6 85.96,517.05 57.03,539.5" fill="none" stroke="#377eb8" stroke-width="1.1" stroke-dasharray="3.3 1.4" clip-path="url(#cd)"/>
<circle cx="230.6" cy="403.8" r="3.2" fill="#e41a1c"/>
<path d="M228 402.2L233.2 407.4M228 407.4L233.2 402.2" stroke="#377eb8" stroke-width="1.2" fill="none"/>
<circle cx="201.67" cy="426.25" r="3.2" fill="#e41a1c"/>
<path d="M199.07 424.65L204.27 429.85M199.07 429.85L204.27 424.65" stroke="#377eb8" stroke-width="1.2" fill="none"/>
<circle cx="172.74" cy="448.7" r="3.2" fill="#e41a1c"/>
<path d="M170.14 447.1L175.34 452.3M170.14 452.3L175.34 447.1" stroke="#377eb8" stroke-width="1.2" fill="none"/>
<circle cx="143.81" cy="471.15" r="3.2" fill="#e41a1c"/>
<path d="M141.21 469.55L146.41 474.75M141.21 474.75L146.41 469.55" stroke="#377eb8" stroke-width="1.2" fill="none"/>
<circle cx="114.88" cy="493.6" r="3.2" fill="#e41a1c"/>
<path d="M112.28 492L117.48 497.2M112.28 497.2L117.48 492" stroke="#377eb8" stroke-width="1.2" fill="none"/>
<circle cx="85.96" cy="516.05" r="3.2" fill="#e41a1c"/>
<path d="M83.36 514.45L88.56 519.65M83.36 519.65L88.56 514.45" stroke="#377eb8" stroke-width="1.2" fill="none"/>
<circle cx="57.03" cy="538.5" r="3.2" fill="#e41a1c"/>
<path d="M54.43 536.9L59.63 542.1M54.43 542.1L59.63 536.9" stroke="#377eb8" stroke-width="1.2" fill="none"/>
<rect x="49.1" y="397.4" width="190.3" height="149.1" fill="none" stroke="#3a3a3a" stroke-width="1.25"/>
<line x1="67.33" y1="546.5" x2="67.33" y2="548.5" stroke="#3a3a3a" stroke-width="0.7"/>
<line x1="84.25" y1="546.5" x2="84.25" y2="548.5" stroke="#3a3a3a" stroke-width="0.7"/>
<line x1="96.26" y1="546.5" x2="96.26" y2="548.5" stroke="#3a3a3a" stroke-width="0.7"/>
<line x1="105.57" y1="546.5" x2="105.57" y2="548.5" stroke="#3a3a3a" stroke-width="0.7"/>
<line x1="113.18" y1="546.5" x2="113.18" y2="548.5" stroke="#3a3a3a" stroke-width="0.7"/>
<line x1="119.61" y1="546.5" x2="119.61" y2="548.5" stroke="#3a3a3a" stroke-width="0.7"/>
<line x1="125.19" y1="546.5" x2="125.19" y2="548.5" stroke="#3a3a3a" stroke-width="0.7"/>
<line x1="130.1" y1="546.5" x2="130.1" y2="548.5" stroke="#3a3a3a" stroke-width="0.7"/>
<line x1="134.5" y1="546.5" x2="134.5" y2="550" stroke="#3a3a3a" stroke-width="0.9"/>
<line x1="163.43" y1="546.5" x2="163.43" y2="548.5" stroke="#3a3a3a" stroke-width="0.7"/>
<line x1="180.35" y1="546.5" x2="180.35" y2="548.5" stroke="#3a3a3a" stroke-width="0.7"/>
<line x1="192.36" y1="546.5" x2="192.36" y2="548.5" stroke="#3a3a3a" stroke-width="0.7"/>
<line x1="201.67" y1="546.5" x2="201.67" y2="548.5" stroke="#3a3a3a" stroke-width="0.7"/>
<line x1="209.28" y1="546.5" x2="209.28" y2="548.5" stroke="#3a3a3a" stroke-width="0.7"/>
<line x1="215.71" y1="546.5" x2="215.71" y2="548.5" stroke="#3a3a3a" stroke-width="0.7"/>
<line x1="221.29" y1="546.5" x2="221.29" y2="548.5" stroke="#3a3a3a" stroke-width="0.7"/>
<line x1="226.2" y1="546.5" x2="226.2" y2="548.5" stroke="#3a3a3a" stroke-width="0.7"/>
<line x1="230.6" y1="546.5" x2="230.6" y2="550" stroke="#3a3a3a" stroke-width="0.9"/>
<line x1="47.1" y1="545.04" x2="49.1" y2="545.04" stroke="#3a3a3a" stroke-width="0.7"/>
<line x1="47.1" y1="540.02" x2="49.1" y2="540.02" stroke="#3a3a3a" stroke-width="0.7"/>
<line x1="47.1" y1="535.67" x2="49.1" y2="535.67" stroke="#3a3a3a" stroke-width="0.7"/>
<line x1="47.1" y1="531.83" x2="49.1" y2="531.83" stroke="#3a3a3a" stroke-width="0.7"/>
<line x1="45.6" y1="528.4" x2="49.1" y2="528.4" stroke="#3a3a3a" stroke-width="0.9"/>
<line x1="47.1" y1="505.82" x2="49.1" y2="505.82" stroke="#3a3a3a" stroke-width="0.7"/>
<line x1="47.1" y1="492.62" x2="49.1" y2="492.62" stroke="#3a3a3a" stroke-width="0.7"/>
<line x1="47.1" y1="483.25" x2="49.1" y2="483.25" stroke="#3a3a3a" stroke-width="0.7"/>
<line x1="47.1" y1="475.98" x2="49.1" y2="475.98" stroke="#3a3a3a" stroke-width="0.7"/>
<line x1="47.1" y1="470.04" x2="49.1" y2="470.04" stroke="#3a3a3a" stroke-width="0.7"/>
<line x1="47.1" y1="465.02" x2="49.1" y2="465.02" stroke="#3a3a3a" stroke-width="0.7"/>
<line x1="47.1" y1="460.67" x2="49.1" y2="460.67" stroke="#3a3a3a" stroke-width="0.7"/>
<line x1="47.1" y1="456.83" x2="49.1" y2="456.83" stroke="#3a3a3a" stroke-width="0.7"/>
<line x1="45.6" y1="453.4" x2="49.1" y2="453.4" stroke="#3a3a3a" stroke-width="0.9"/>
<line x1="47.1" y1="430.82" x2="49.1" y2="430.82" stroke="#3a3a3a" stroke-width="0.7"/>
<line x1="47.1" y1="417.62" x2="49.1" y2="417.62" stroke="#3a3a3a" stroke-width="0.7"/>
<line x1="47.1" y1="408.25" x2="49.1" y2="408.25" stroke="#3a3a3a" stroke-width="0.7"/>
<line x1="47.1" y1="400.98" x2="49.1" y2="400.98" stroke="#3a3a3a" stroke-width="0.7"/>
<g>
<text x="123.85" y="561.8" font-size="9.97" textLength="11.32" lengthAdjust="spacingAndGlyphs" fill="#1c1c1c">10</text>
<text x="135.97" y="558.95" font-size="6.98" textLength="9.18" lengthAdjust="spacingAndGlyphs" fill="#1c1c1c">−2</text>
</g>
<g>
<text x="219.95" y="561.8" font-size="9.97" textLength="11.32" lengthAdjust="spacingAndGlyphs" fill="#1c1c1c">10</text>
<text x="232.07" y="558.95" font-size="6.98" textLength="9.18" lengthAdjust="spacingAndGlyphs" fill="#1c1c1c">−1</text>
</g>
<g>
<text x="20.79" y="532" font-size="9.97" textLength="11.32" lengthAdjust="spacingAndGlyphs" fill="#1c1c1c">10</text>
<text x="32.92" y="529.15" font-size="6.98" textLength="9.18" lengthAdjust="spacingAndGlyphs" fill="#1c1c1c">−8</text>
</g>
<g>
<text x="20.79" y="457" font-size="9.97" textLength="11.32" lengthAdjust="spacingAndGlyphs" fill="#1c1c1c">10</text>
<text x="32.92" y="454.15" font-size="6.98" textLength="9.18" lengthAdjust="spacingAndGlyphs" fill="#1c1c1c">−7</text>
</g>
<g>
<text x="99.24" y="577.4" font-size="12.1" textLength="55.04" lengthAdjust="spacingAndGlyphs" fill="#1c1c1c">Timestep,</text>
<text x="157.81" y="577.4" font-size="12.1" textLength="7.59" lengthAdjust="spacingAndGlyphs" fill="#1c1c1c">Δ</text>
<text x="165.4" y="577.4" font-size="12.1" textLength="4.35" lengthAdjust="spacingAndGlyphs" fill="#1c1c1c" font-style="italic">t</text>
<text x="173.28" y="577.4" font-size="12.1" textLength="4.33" lengthAdjust="spacingAndGlyphs" fill="#1c1c1c">(</text>
<text x="177.62" y="577.4" font-size="12.1" textLength="7.32" lengthAdjust="spacingAndGlyphs" fill="#1c1c1c" font-style="italic">α</text>
<text x="184.93" y="577.4" font-size="12.1" textLength="4.33" lengthAdjust="spacingAndGlyphs" fill="#1c1c1c">)</text>
</g>
<g transform="rotate(-90 13.3 471.95)">
<text x="-8.74" y="471.95" font-size="12.1" textLength="13.25" lengthAdjust="spacingAndGlyphs" fill="#1c1c1c">L2</text>
<text x="8.03" y="471.95" font-size="12.1" textLength="27.31" lengthAdjust="spacingAndGlyphs" fill="#1c1c1c">error</text>
</g>
<rect x="55" y="403.6" width="17" height="21.5" fill="#fff" stroke="#858585" stroke-width="1" rx="0.9"/>
<g>
<text x="59.98" y="418" font-size="12.1" textLength="7.05" lengthAdjust="spacingAndGlyphs" fill="#1c1c1c">d</text>
</g>
<rect x="74.4" y="403.6" width="58" height="21.5" fill="#fff" stroke="#858585" stroke-width="1" rx="0.9"/>
<g>
<text x="79.75" y="418" font-size="12.1" textLength="4.35" lengthAdjust="spacingAndGlyphs" fill="#1c1c1c">t</text>
<text x="84.11" y="420.44" font-size="8.7" textLength="14.64" lengthAdjust="spacingAndGlyphs" fill="#1c1c1c">end</text>
<text x="102.27" y="418" font-size="12.1" textLength="9.3" lengthAdjust="spacingAndGlyphs" fill="#1c1c1c">=</text>
<text x="115.1" y="418" font-size="12.1" textLength="11.95" lengthAdjust="spacingAndGlyphs" fill="#1c1c1c">Δt</text>
</g>
<rect x="168.8" y="520.4" width="65.1" height="20.8" fill="#fff" stroke="#858585" stroke-width="1" rx="0.9"/>
<line x1="173.6" y1="530" x2="196" y2="530" stroke="#cccccc" stroke-width="0.9"/>
<g>
<text x="205.4" y="534.6" font-size="12.1" textLength="24.46" lengthAdjust="spacingAndGlyphs" fill="#1c1c1c">O(1)</text>
</g>
<line x1="339.4" y1="397.4" x2="339.4" y2="546.5" stroke="#e3e3e3" stroke-width="0.75" stroke-dasharray="2.8 1.2"/>
<line x1="454.6" y1="397.4" x2="454.6" y2="546.5" stroke="#e3e3e3" stroke-width="0.75" stroke-dasharray="2.8 1.2"/>
<line x1="296.5" y1="505" x2="486.8" y2="505" stroke="#e3e3e3" stroke-width="0.75" stroke-dasharray="2.8 1.2"/>
<line x1="296.5" y1="413.4" x2="486.8" y2="413.4" stroke="#e3e3e3" stroke-width="0.75" stroke-dasharray="2.8 1.2"/>
<polyline points="134.9,365.59 -165.1,604.14" fill="none" stroke="#9c9c9c" stroke-width="0.7" clip-path="url(#ce)"/>
<polyline points="174.65,365.59 -125.35,604.14" fill="none" stroke="#9c9c9c" stroke-width="0.7" clip-path="url(#ce)"/>
<polyline points="214.4,365.59 -85.6,604.14" fill="none" stroke="#9c9c9c" stroke-width="0.7" clip-path="url(#ce)"/>
<polyline points="254.15,365.59 -45.85,604.14" fill="none" stroke="#9c9c9c" stroke-width="0.7" clip-path="url(#ce)"/>
<polyline points="293.9,365.59 -6.1,604.14" fill="none" stroke="#9c9c9c" stroke-width="0.7" clip-path="url(#ce)"/>
<polyline points="333.65,365.59 33.65,604.14" fill="none" stroke="#9c9c9c" stroke-width="0.7" clip-path="url(#ce)"/>
<polyline points="373.4,365.59 73.4,604.14" fill="none" stroke="#9c9c9c" stroke-width="0.7" clip-path="url(#ce)"/>
<polyline points="413.15,365.59 113.15,604.14" fill="none" stroke="#9c9c9c" stroke-width="0.7" clip-path="url(#ce)"/>
<polyline points="452.9,365.59 152.9,604.14" fill="none" stroke="#9c9c9c" stroke-width="0.7" clip-path="url(#ce)"/>
<polyline points="492.65,365.59 192.65,604.14" fill="none" stroke="#9c9c9c" stroke-width="0.7" clip-path="url(#ce)"/>
<polyline points="532.4,365.59 232.4,604.14" fill="none" stroke="#9c9c9c" stroke-width="0.7" clip-path="url(#ce)"/>
<polyline points="572.15,365.59 272.15,604.14" fill="none" stroke="#9c9c9c" stroke-width="0.7" clip-path="url(#ce)"/>
<polyline points="611.9,365.59 311.9,604.14" fill="none" stroke="#9c9c9c" stroke-width="0.7" clip-path="url(#ce)"/>
<polyline points="651.65,365.59 351.65,604.14" fill="none" stroke="#9c9c9c" stroke-width="0.7" clip-path="url(#ce)"/>
<polyline points="691.4,365.59 391.4,604.14" fill="none" stroke="#9c9c9c" stroke-width="0.7" clip-path="url(#ce)"/>
<polyline points="731.15,365.59 431.15,604.14" fill="none" stroke="#9c9c9c" stroke-width="0.7" clip-path="url(#ce)"/>
<polyline points="770.9,365.59 470.9,604.14" fill="none" stroke="#9c9c9c" stroke-width="0.7" clip-path="url(#ce)"/>
<polyline points="810.65,365.59 510.65,604.14" fill="none" stroke="#9c9c9c" stroke-width="0.7" clip-path="url(#ce)"/>
<polyline points="850.4,365.59 550.4,604.14" fill="none" stroke="#9c9c9c" stroke-width="0.7" clip-path="url(#ce)"/>
<polyline points="890.15,365.59 590.15,604.14" fill="none" stroke="#9c9c9c" stroke-width="0.7" clip-path="url(#ce)"/>
<polyline points="304.72,540 339.4,512.88 374.08,485.76 408.76,458.64 443.44,431.52 478.11,404.4" fill="none" stroke="#e41a1c" stroke-width="1.1" stroke-dasharray="3.3 1.4" clip-path="url(#ce)"/>
<polyline points="304.72,539.2 339.4,512.08 374.08,484.96 408.76,457.84 443.44,430.72 478.11,403.6" fill="none" stroke="#377eb8" stroke-width="1.1" stroke-dasharray="3.3 1.4" clip-path="url(#ce)"/>
<circle cx="304.72" cy="540" r="3.2" fill="#e41a1c"/>
<path d="M302.12 536.6L307.32 541.8M302.12 541.8L307.32 536.6" stroke="#377eb8" stroke-width="1.2" fill="none"/>
<circle cx="339.4" cy="512.88" r="3.2" fill="#e41a1c"/>
<path d="M336.8 509.48L342 514.68M336.8 514.68L342 509.48" stroke="#377eb8" stroke-width="1.2" fill="none"/>
<circle cx="374.08" cy="485.76" r="3.2" fill="#e41a1c"/>
<path d="M371.48 482.36L376.68 487.56M371.48 487.56L376.68 482.36" stroke="#377eb8" stroke-width="1.2" fill="none"/>
<circle cx="408.76" cy="458.64" r="3.2" fill="#e41a1c"/>
<path d="M406.16 455.24L411.36 460.44M406.16 460.44L411.36 455.24" stroke="#377eb8" stroke-width="1.2" fill="none"/>
<circle cx="443.44" cy="431.52" r="3.2" fill="#e41a1c"/>
<path d="M440.84 428.12L446.04 433.32M440.84 433.32L446.04 428.12" stroke="#377eb8" stroke-width="1.2" fill="none"/>
<circle cx="478.11" cy="404.4" r="3.2" fill="#e41a1c"/>
<path d="M475.51 401L480.71 406.2M475.51 406.2L480.71 401" stroke="#377eb8" stroke-width="1.2" fill="none"/>
<rect x="296.5" y="397.4" width="190.3" height="149.1" fill="none" stroke="#3a3a3a" stroke-width="1.25"/>
<line x1="304.72" y1="546.5" x2="304.72" y2="548.5" stroke="#3a3a3a" stroke-width="0.7"/>
<line x1="313.84" y1="546.5" x2="313.84" y2="548.5" stroke="#3a3a3a" stroke-width="0.7"/>
<line x1="321.56" y1="546.5" x2="321.56" y2="548.5" stroke="#3a3a3a" stroke-width="0.7"/>
<line x1="328.24" y1="546.5" x2="328.24" y2="548.5" stroke="#3a3a3a" stroke-width="0.7"/>
<line x1="334.13" y1="546.5" x2="334.13" y2="548.5" stroke="#3a3a3a" stroke-width="0.7"/>
<line x1="339.4" y1="546.5" x2="339.4" y2="550" stroke="#3a3a3a" stroke-width="0.9"/>
<line x1="374.08" y1="546.5" x2="374.08" y2="548.5" stroke="#3a3a3a" stroke-width="0.7"/>
<line x1="394.36" y1="546.5" x2="394.36" y2="548.5" stroke="#3a3a3a" stroke-width="0.7"/>
<line x1="408.76" y1="546.5" x2="408.76" y2="548.5" stroke="#3a3a3a" stroke-width="0.7"/>
<line x1="419.92" y1="546.5" x2="419.92" y2="548.5" stroke="#3a3a3a" stroke-width="0.7"/>
<line x1="429.04" y1="546.5" x2="429.04" y2="548.5" stroke="#3a3a3a" stroke-width="0.7"/>
<line x1="436.76" y1="546.5" x2="436.76" y2="548.5" stroke="#3a3a3a" stroke-width="0.7"/>
<line x1="443.44" y1="546.5" x2="443.44" y2="548.5" stroke="#3a3a3a" stroke-width="0.7"/>
<line x1="449.33" y1="546.5" x2="449.33" y2="548.5" stroke="#3a3a3a" stroke-width="0.7"/>
<line x1="454.6" y1="546.5" x2="454.6" y2="550" stroke="#3a3a3a" stroke-width="0.9"/>
<line x1="294.5" y1="541.45" x2="296.5" y2="541.45" stroke="#3a3a3a" stroke-width="0.7"/>
<line x1="294.5" y1="532.57" x2="296.5" y2="532.57" stroke="#3a3a3a" stroke-width="0.7"/>
<line x1="294.5" y1="525.32" x2="296.5" y2="525.32" stroke="#3a3a3a" stroke-width="0.7"/>
<line x1="294.5" y1="519.19" x2="296.5" y2="519.19" stroke="#3a3a3a" stroke-width="0.7"/>
<line x1="294.5" y1="513.88" x2="296.5" y2="513.88" stroke="#3a3a3a" stroke-width="0.7"/>
<line x1="294.5" y1="509.19" x2="296.5" y2="509.19" stroke="#3a3a3a" stroke-width="0.7"/>
<line x1="293" y1="505" x2="296.5" y2="505" stroke="#3a3a3a" stroke-width="0.9"/>
<line x1="294.5" y1="477.43" x2="296.5" y2="477.43" stroke="#3a3a3a" stroke-width="0.7"/>
<line x1="294.5" y1="461.3" x2="296.5" y2="461.3" stroke="#3a3a3a" stroke-width="0.7"/>
<line x1="294.5" y1="449.85" x2="296.5" y2="449.85" stroke="#3a3a3a" stroke-width="0.7"/>
<line x1="294.5" y1="440.97" x2="296.5" y2="440.97" stroke="#3a3a3a" stroke-width="0.7"/>
<line x1="294.5" y1="433.72" x2="296.5" y2="433.72" stroke="#3a3a3a" stroke-width="0.7"/>
<line x1="294.5" y1="427.59" x2="296.5" y2="427.59" stroke="#3a3a3a" stroke-width="0.7"/>
<line x1="294.5" y1="422.28" x2="296.5" y2="422.28" stroke="#3a3a3a" stroke-width="0.7"/>
<line x1="294.5" y1="417.59" x2="296.5" y2="417.59" stroke="#3a3a3a" stroke-width="0.7"/>
<line x1="293" y1="413.4" x2="296.5" y2="413.4" stroke="#3a3a3a" stroke-width="0.9"/>
<g>
<text x="331.36" y="561.8" font-size="9.97" textLength="11.32" lengthAdjust="spacingAndGlyphs" fill="#1c1c1c">10</text>
<text x="343.48" y="558.95" font-size="6.98" textLength="3.96" lengthAdjust="spacingAndGlyphs" fill="#1c1c1c">0</text>
</g>
<g>
<text x="446.56" y="561.8" font-size="9.97" textLength="11.32" lengthAdjust="spacingAndGlyphs" fill="#1c1c1c">10</text>
<text x="458.68" y="558.95" font-size="6.98" textLength="3.96" lengthAdjust="spacingAndGlyphs" fill="#1c1c1c">1</text>
</g>
<g>
<text x="268.19" y="508.6" font-size="9.97" textLength="11.32" lengthAdjust="spacingAndGlyphs" fill="#1c1c1c">10</text>
<text x="280.32" y="505.75" font-size="6.98" textLength="9.18" lengthAdjust="spacingAndGlyphs" fill="#1c1c1c">−5</text>
</g>
<g>
<text x="268.19" y="417" font-size="9.97" textLength="11.32" lengthAdjust="spacingAndGlyphs" fill="#1c1c1c">10</text>
<text x="280.32" y="414.15" font-size="6.98" textLength="9.18" lengthAdjust="spacingAndGlyphs" fill="#1c1c1c">−4</text>
</g>
<g>
<text x="346.64" y="577.4" font-size="12.1" textLength="55.04" lengthAdjust="spacingAndGlyphs" fill="#1c1c1c">Timestep,</text>
<text x="405.21" y="577.4" font-size="12.1" textLength="7.59" lengthAdjust="spacingAndGlyphs" fill="#1c1c1c">Δ</text>
<text x="412.8" y="577.4" font-size="12.1" textLength="4.35" lengthAdjust="spacingAndGlyphs" fill="#1c1c1c" font-style="italic">t</text>
<text x="420.68" y="577.4" font-size="12.1" textLength="4.33" lengthAdjust="spacingAndGlyphs" fill="#1c1c1c">(</text>
<text x="425.02" y="577.4" font-size="12.1" textLength="7.32" lengthAdjust="spacingAndGlyphs" fill="#1c1c1c" font-style="italic">α</text>
<text x="432.33" y="577.4" font-size="12.1" textLength="4.33" lengthAdjust="spacingAndGlyphs" fill="#1c1c1c">)</text>
</g>
<g transform="rotate(-90 262.7 471.95)">
<text x="240.66" y="471.95" font-size="12.1" textLength="13.25" lengthAdjust="spacingAndGlyphs" fill="#1c1c1c">L2</text>
<text x="257.43" y="471.95" font-size="12.1" textLength="27.31" lengthAdjust="spacingAndGlyphs" fill="#1c1c1c">error</text>
</g>
<rect x="302.4" y="403.6" width="17" height="21.5" fill="#fff" stroke="#858585" stroke-width="1" rx="0.9"/>
<g>
<text x="307.49" y="418" font-size="12.1" textLength="6.83" lengthAdjust="spacingAndGlyphs" fill="#1c1c1c">e</text>
</g>
<rect x="321.6" y="403.6" width="78.7" height="21.5" fill="#fff" stroke="#858585" stroke-width="1" rx="0.9"/>
<g>
<text x="327.26" y="418" font-size="12.1" textLength="4.35" lengthAdjust="spacingAndGlyphs" fill="#1c1c1c">t</text>
<text x="331.61" y="420.44" font-size="8.7" textLength="14.64" lengthAdjust="spacingAndGlyphs" fill="#1c1c1c">end</text>
<text x="349.78" y="418" font-size="12.1" textLength="9.3" lengthAdjust="spacingAndGlyphs" fill="#1c1c1c">=</text>
<text x="362.61" y="418" font-size="12.1" textLength="21.19" lengthAdjust="spacingAndGlyphs" fill="#1c1c1c">160</text>
<text x="387.32" y="418" font-size="12.1" textLength="7.32" lengthAdjust="spacingAndGlyphs" fill="#1c1c1c" font-style="italic">α</text>
</g>
<rect x="416.3" y="521.4" width="65.1" height="20" fill="#fff" stroke="#858585" stroke-width="1" rx="0.9"/>
<line x1="421.1" y1="531" x2="443.5" y2="531" stroke="#cccccc" stroke-width="0.9"/>
<g>
<text x="452.6" y="534.6" font-size="12.1" textLength="24.46" lengthAdjust="spacingAndGlyphs" fill="#1c1c1c">O(1)</text>
</g>
</svg></body></html>
